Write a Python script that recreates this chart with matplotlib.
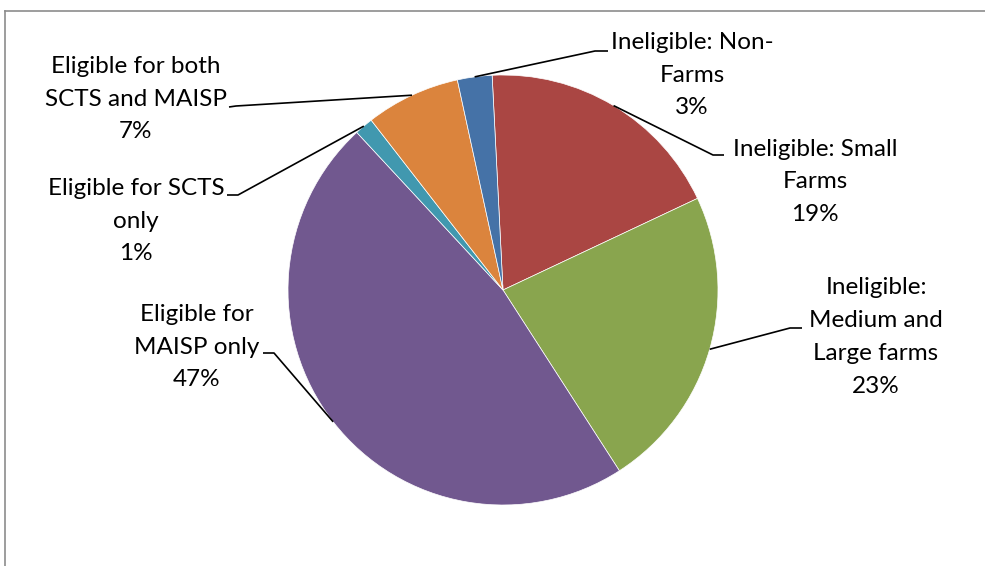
import numpy as np
import matplotlib.pyplot as plt
from matplotlib.lines import Line2D

plt.rcParams['font.family'] = ['Lato', 'DejaVu Sans']

# Slices, clockwise from the top
labels = ["Ineligible: Small\nFarms",
          "Ineligible:\nMedium and\nLarge farms",
          "Eligible for\nMAISP only",
          "Eligible for SCTS\nonly",
          "Eligible for both\nSCTS and MAISP",
          "Ineligible: Non-\nFarms"]
values = [18.8, 22.9, 47.2, 1.4, 7.1, 2.6]
colors = ["#AA4643", "#89A54E", "#71588F", "#4198AF", "#DB843D", "#4572A7"]

# label layout in pixel coords (x, y from top): text centre, elbow, line end
text_pos = [(815, 182), (876, 337), (197, 347), (136, 221), (136, 99), (692, 75)]
elbow = [(713, 155), (790, 328), (274, 353), (238, 195), (236, 106), (595, 51)]
line_end = [(724, 155), (802, 328), (263, 353), (227, 195), (229, 107), (608, 51)]

W, H = 985, 566
fig = plt.figure(figsize=(9.85, 5.66), dpi=100)
ax = fig.add_axes([0, 0, 1, 1])

cx, cy, r = 503, H - 290, 215
start = 92.9
wedges, _ = ax.pie(values, colors=colors, startangle=start, counterclock=False,
                   center=(cx, cy), radius=r,
                   wedgeprops=dict(edgecolor='white', linewidth=0.5))
ax.set_xlim(0, W)
ax.set_ylim(0, H)
ax.set_aspect('equal')
ax.axis('off')

for w, lab, v, tp, el, le in zip(wedges, labels, values, text_pos, elbow, line_end):
    mid = np.deg2rad((w.theta1 + w.theta2) / 2)
    px = cx + r * np.cos(mid)
    py = cy + r * np.sin(mid)
    ax.plot([px, el[0], le[0]], [py, H - el[1], H - le[1]], color='black', lw=1.2,
            solid_capstyle='butt')
    ax.text(tp[0], H - tp[1], f"{lab}\n{round(v)}%", ha='center', va='center',
            fontsize=17.5, linespacing=1.7, color='black')

# chart area border (cropped at right and bottom)
fig.add_artist(Line2D([5 / W, 1], [1 - 11 / H, 1 - 11 / H], color='#8c8c8c', lw=1.2))
fig.add_artist(Line2D([5 / W, 5 / W], [0, 1 - 11 / H], color='#8c8c8c', lw=1.2))

fig.savefig("out.png", dpi=100)
